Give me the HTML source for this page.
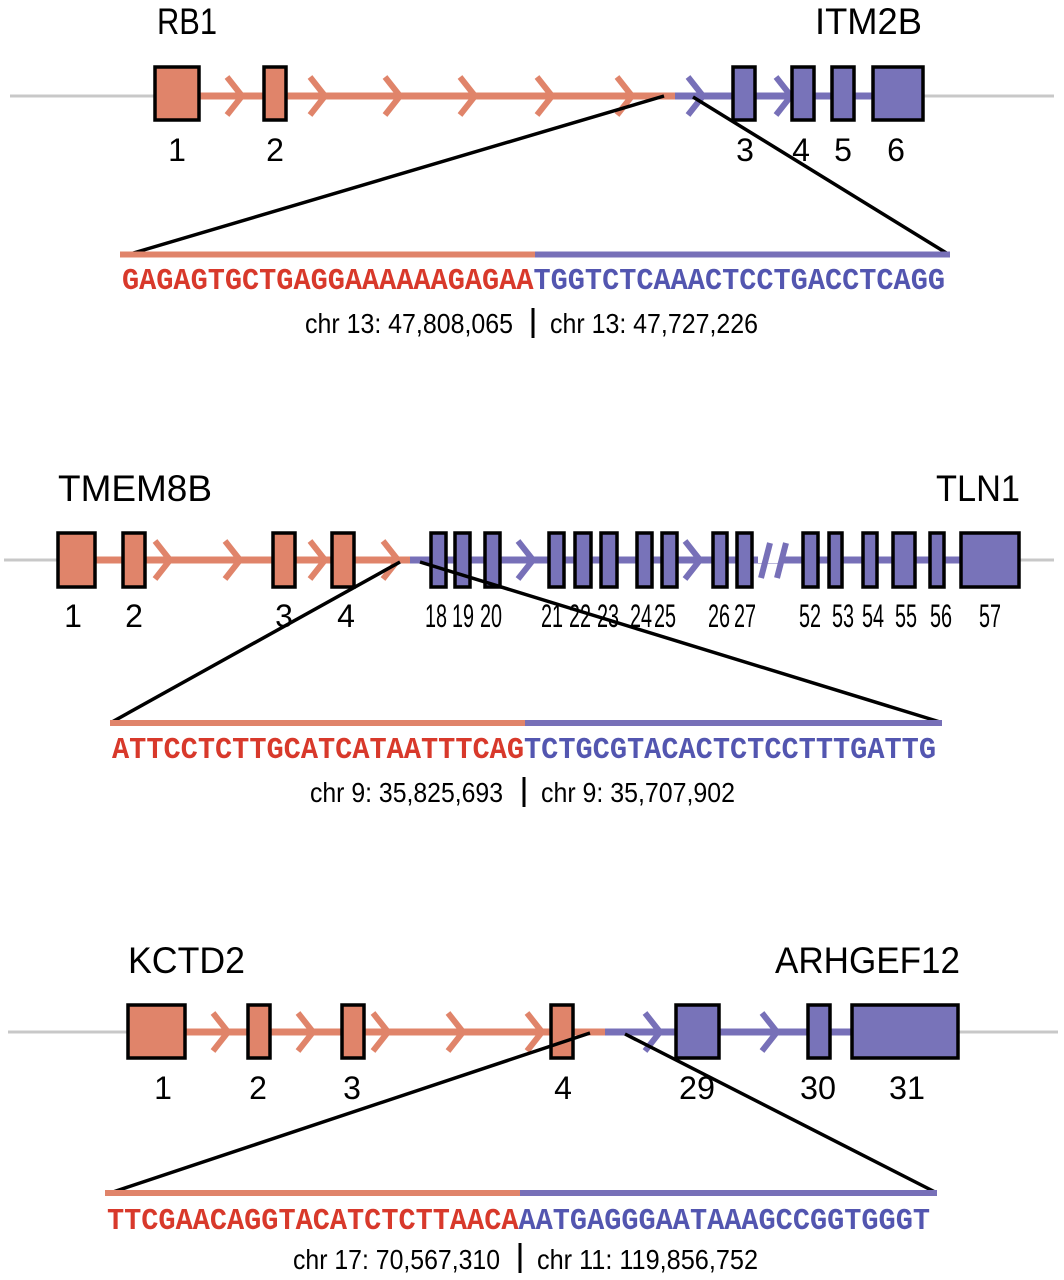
<!DOCTYPE html>
<html><head><meta charset="utf-8"><style>
html,body{margin:0;padding:0;background:#fff;}
svg{display:block;}
.g{font-family:"Liberation Sans",sans-serif;fill:#000;}
.seq{font-family:"Liberation Mono",monospace;font-weight:bold;font-size:31px;}
</style></head><body>
<svg width="1064" height="1280" viewBox="0 0 1064 1280" xmlns="http://www.w3.org/2000/svg">
<defs>
<path id="chev" d="M-9,-19 L6,0 L-9,19" fill="none" stroke-width="6"/>
</defs>
<g stroke-linecap="butt">
<!-- ========== Panel 1 ========== -->
<line x1="10" y1="96" x2="1054" y2="96" stroke="#c8c8c8" stroke-width="3"/>
<line x1="199" y1="96" x2="675" y2="96" stroke="#e0846a" stroke-width="7"/>
<line x1="675" y1="96" x2="873" y2="96" stroke="#7770b8" stroke-width="7"/>
<g stroke="#e0846a"><use href="#chev" x="236" y="96"/><use href="#chev" x="319" y="96"/><use href="#chev" x="394" y="96"/><use href="#chev" x="469" y="96"/><use href="#chev" x="546" y="96"/><use href="#chev" x="626" y="96"/></g>
<g stroke="#7770b8"><use href="#chev" x="697" y="96"/><use href="#chev" x="785" y="96"/></g>
<g stroke="#000" stroke-width="3.5">
<rect x="155" y="67" width="44" height="53" fill="#e0846a"/>
<rect x="264" y="67" width="22" height="53" fill="#e0846a"/>
<rect x="733" y="67" width="22" height="53" fill="#7873b9"/>
<rect x="792" y="67" width="22" height="53" fill="#7873b9"/>
<rect x="832" y="67" width="22" height="53" fill="#7873b9"/>
<rect x="873" y="67" width="50" height="53" fill="#7873b9"/>
</g>
<line x1="664" y1="96" x2="130" y2="254" stroke="#000" stroke-width="3.5"/>
<line x1="693" y1="97" x2="948" y2="254" stroke="#000" stroke-width="3.5"/>
<line x1="120" y1="254.5" x2="535" y2="254.5" stroke="#e0846a" stroke-width="6"/>
<line x1="535" y1="254.5" x2="950" y2="254.5" stroke="#7770b8" stroke-width="6"/>
<line x1="533" y1="308" x2="533" y2="338" stroke="#000" stroke-width="3"/>
</g>
<text class="g" x="157" y="34" font-size="37" textLength="60" lengthAdjust="spacingAndGlyphs">RB1</text>
<text class="g" x="815" y="34" font-size="37" textLength="107" lengthAdjust="spacingAndGlyphs">ITM2B</text>
<g class="g" font-size="32" text-anchor="middle">
<text x="177" y="161">1</text><text x="275" y="161">2</text><text x="745" y="161">3</text><text x="801" y="161">4</text><text x="843" y="161">5</text><text x="896" y="161">6</text>
</g>
<text class="seq" x="122" y="289" textLength="823" lengthAdjust="spacingAndGlyphs"><tspan fill="#d8392b">GAGAGTGCTGAGGAAAAAAGAGAA</tspan><tspan fill="#5356b0">TGGTCTCAAACTCCTGACCTCAGG</tspan></text>
<text class="g" x="305" y="333" font-size="28" textLength="208" lengthAdjust="spacingAndGlyphs">chr 13: 47,808,065</text>
<text class="g" x="550" y="333" font-size="28" textLength="208" lengthAdjust="spacingAndGlyphs">chr 13: 47,727,226</text>

<!-- ========== Panel 2 ========== -->
<g>
<line x1="4" y1="560" x2="1054" y2="560" stroke="#c8c8c8" stroke-width="3"/>
<line x1="95" y1="560" x2="410" y2="560" stroke="#e0846a" stroke-width="7"/>
<line x1="410" y1="560" x2="961" y2="560" stroke="#7770b8" stroke-width="7"/>
<line x1="758" y1="557" x2="782" y2="557" stroke="#fff" stroke-width="12"/>
<g stroke="#7770b8" stroke-width="6"><line x1="761" y1="578" x2="770" y2="543"/><line x1="777" y1="578" x2="786" y2="543"/></g>
<g stroke="#e0846a"><use href="#chev" x="164" y="560"/><use href="#chev" x="234" y="560"/><use href="#chev" x="319" y="560"/><use href="#chev" x="392" y="560"/></g>
<g stroke="#7770b8"><use href="#chev" x="527" y="560"/><use href="#chev" x="694" y="560"/></g>
<g stroke="#000" stroke-width="3.5">
<rect x="58" y="533" width="37" height="54" fill="#e0846a"/>
<rect x="123" y="533" width="22" height="54" fill="#e0846a"/>
<rect x="273" y="533" width="22" height="54" fill="#e0846a"/>
<rect x="332" y="533" width="22" height="54" fill="#e0846a"/>
<g fill="#7873b9">
<rect x="431" y="533" width="15" height="54"/>
<rect x="455" y="533" width="15" height="54"/>
<rect x="485" y="533" width="15" height="54"/>
<rect x="549" y="533" width="15" height="54"/>
<rect x="575" y="533" width="16" height="54"/>
<rect x="601" y="533" width="16" height="54"/>
<rect x="637" y="533" width="15" height="54"/>
<rect x="662" y="533" width="15" height="54"/>
<rect x="713" y="533" width="14" height="54"/>
<rect x="737" y="533" width="15" height="54"/>
<rect x="803" y="533" width="15" height="54"/>
<rect x="829" y="533" width="13" height="54"/>
<rect x="863" y="533" width="14" height="54"/>
<rect x="893" y="533" width="22" height="54"/>
<rect x="930" y="533" width="14" height="54"/>
<rect x="961" y="533" width="58" height="54"/>
</g>
</g>
<line x1="400" y1="562" x2="112" y2="722" stroke="#000" stroke-width="3.5"/>
<line x1="420" y1="562" x2="940" y2="722" stroke="#000" stroke-width="3.5"/>
<line x1="110" y1="723" x2="525" y2="723" stroke="#e0846a" stroke-width="6"/>
<line x1="525" y1="723" x2="942" y2="723" stroke="#7770b8" stroke-width="6"/>
<line x1="524" y1="777" x2="524" y2="807" stroke="#000" stroke-width="3"/>
</g>
<text class="g" x="58" y="501" font-size="37" textLength="154" lengthAdjust="spacingAndGlyphs">TMEM8B</text>
<text class="g" x="936" y="501" font-size="37" textLength="84" lengthAdjust="spacingAndGlyphs">TLN1</text>
<g class="g" font-size="32" text-anchor="middle">
<text x="73" y="627">1</text><text x="134" y="627">2</text><text x="284" y="627">3</text><text x="346" y="627">4</text>
</g>
<g class="g" font-size="32" text-anchor="middle" transform="translate(0,627)">
<text x="436" y="0" textLength="22" lengthAdjust="spacingAndGlyphs">18</text>
<text x="463" y="0" textLength="22" lengthAdjust="spacingAndGlyphs">19</text>
<text x="491" y="0" textLength="22" lengthAdjust="spacingAndGlyphs">20</text>
<text x="552" y="0" textLength="22" lengthAdjust="spacingAndGlyphs">21</text>
<text x="580" y="0" textLength="22" lengthAdjust="spacingAndGlyphs">22</text>
<text x="608" y="0" textLength="22" lengthAdjust="spacingAndGlyphs">23</text>
<text x="641" y="0" textLength="22" lengthAdjust="spacingAndGlyphs">24</text>
<text x="665" y="0" textLength="22" lengthAdjust="spacingAndGlyphs">25</text>
<text x="719" y="0" textLength="22" lengthAdjust="spacingAndGlyphs">26</text>
<text x="745" y="0" textLength="22" lengthAdjust="spacingAndGlyphs">27</text>
<text x="810" y="0" textLength="22" lengthAdjust="spacingAndGlyphs">52</text>
<text x="843" y="0" textLength="22" lengthAdjust="spacingAndGlyphs">53</text>
<text x="873" y="0" textLength="22" lengthAdjust="spacingAndGlyphs">54</text>
<text x="906" y="0" textLength="22" lengthAdjust="spacingAndGlyphs">55</text>
<text x="941" y="0" textLength="22" lengthAdjust="spacingAndGlyphs">56</text>
<text x="990" y="0" textLength="22" lengthAdjust="spacingAndGlyphs">57</text>
</g>
<text class="seq" x="112" y="758" textLength="824" lengthAdjust="spacingAndGlyphs"><tspan fill="#d8392b">ATTCCTCTTGCATCATAATTTCAG</tspan><tspan fill="#5356b0">TCTGCGTACACTCTCCTTTGATTG</tspan></text>
<text class="g" x="310" y="802" font-size="28" textLength="193" lengthAdjust="spacingAndGlyphs">chr 9: 35,825,693</text>
<text class="g" x="541" y="802" font-size="28" textLength="194" lengthAdjust="spacingAndGlyphs">chr 9: 35,707,902</text>

<!-- ========== Panel 3 ========== -->
<g>
<line x1="8" y1="1032" x2="1058" y2="1032" stroke="#c8c8c8" stroke-width="3"/>
<line x1="185" y1="1032" x2="605" y2="1032" stroke="#e0846a" stroke-width="7"/>
<line x1="605" y1="1032" x2="852" y2="1032" stroke="#7770b8" stroke-width="7"/>
<g stroke="#e0846a"><use href="#chev" x="222" y="1032"/><use href="#chev" x="307" y="1032"/><use href="#chev" x="382" y="1032"/><use href="#chev" x="457" y="1032"/><use href="#chev" x="536" y="1032"/></g>
<g stroke="#7770b8"><use href="#chev" x="654" y="1032"/><use href="#chev" x="771" y="1032"/></g>
<g stroke="#000" stroke-width="3.5">
<rect x="128" y="1005" width="57" height="53" fill="#e0846a"/>
<rect x="248" y="1005" width="22" height="53" fill="#e0846a"/>
<rect x="342" y="1005" width="22" height="53" fill="#e0846a"/>
<rect x="551" y="1005" width="22" height="53" fill="#e0846a"/>
<rect x="676" y="1005" width="43" height="53" fill="#7873b9"/>
<rect x="808" y="1005" width="22" height="53" fill="#7873b9"/>
<rect x="852" y="1005" width="106" height="53" fill="#7873b9"/>
</g>
<line x1="590" y1="1033" x2="113" y2="1192" stroke="#000" stroke-width="3.5"/>
<line x1="625" y1="1034" x2="935" y2="1192" stroke="#000" stroke-width="3.5"/>
<line x1="105" y1="1193" x2="520" y2="1193" stroke="#e0846a" stroke-width="6"/>
<line x1="520" y1="1193" x2="937" y2="1193" stroke="#7770b8" stroke-width="6"/>
<line x1="520" y1="1243" x2="520" y2="1273" stroke="#000" stroke-width="3"/>
</g>
<text class="g" x="128" y="973" font-size="37" textLength="117" lengthAdjust="spacingAndGlyphs">KCTD2</text>
<text class="g" x="775" y="973" font-size="37" textLength="185" lengthAdjust="spacingAndGlyphs">ARHGEF12</text>
<g class="g" font-size="32" text-anchor="middle">
<text x="163" y="1099">1</text><text x="258" y="1099">2</text><text x="352" y="1099">3</text><text x="563" y="1099">4</text>
<text x="697" y="1099" textLength="36" lengthAdjust="spacingAndGlyphs">29</text><text x="818" y="1099" textLength="36" lengthAdjust="spacingAndGlyphs">30</text><text x="907" y="1099" textLength="36" lengthAdjust="spacingAndGlyphs">31</text>
</g>
<text class="seq" x="107" y="1229" textLength="823" lengthAdjust="spacingAndGlyphs"><tspan fill="#d8392b">TTCGAACAGGTACATCTCTTAACA</tspan><tspan fill="#5356b0">AATGAGGGAATAAAGCCGGTGGGT</tspan></text>
<text class="g" x="293" y="1269" font-size="28" textLength="207" lengthAdjust="spacingAndGlyphs">chr 17: 70,567,310</text>
<text class="g" x="537" y="1269" font-size="28" textLength="221" lengthAdjust="spacingAndGlyphs">chr 11: 119,856,752</text>
</svg>
</body></html>
